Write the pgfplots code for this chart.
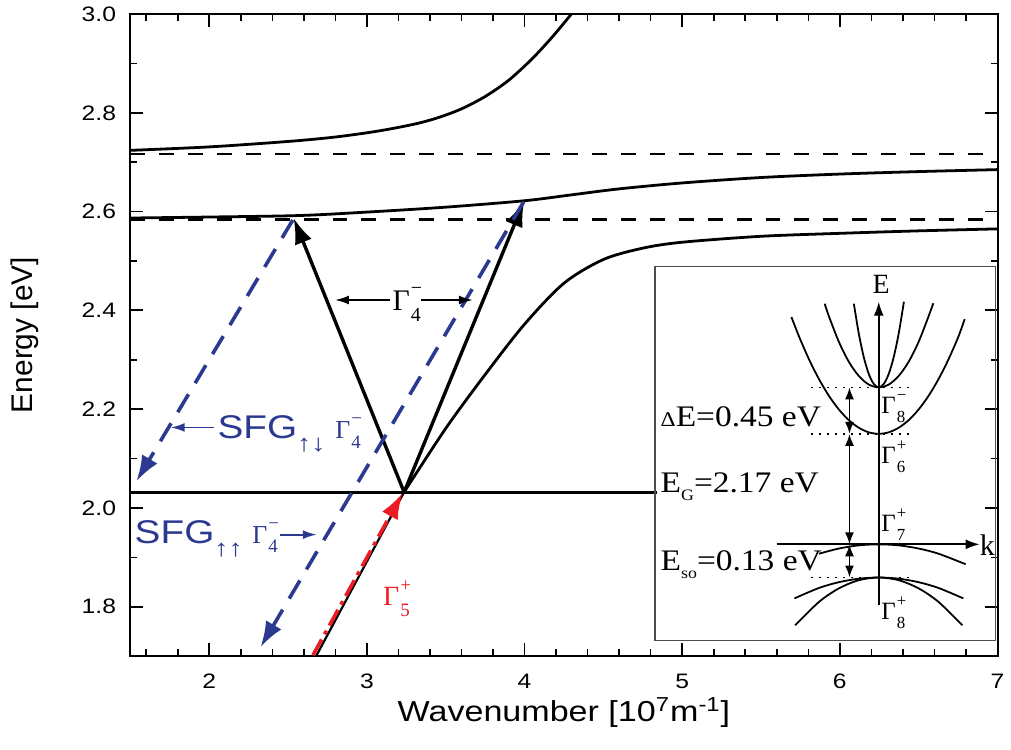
\documentclass[border=0pt]{standalone}
\usepackage{fontspec}
\setmainfont{Liberation Sans}
\newfontfamily\sansw{Liberation Sans}[FakeStretch=1.18]
\newfontfamily\serifw{Liberation Serif}[FakeStretch=1.12]
\newfontfamily\serif{Liberation Serif}
\usepackage{pgfplots}
\pgfplotsset{compat=1.18}
\usetikzlibrary{arrows.meta}
\definecolor{sfgblue}{RGB}{43,57,144}
\definecolor{gred}{RGB}{237,28,36}
\newcommand\Gam[4]{{\serif\fontsize{#1}{#1}\selectfont Γ\kern0.04em\rlap{\raisebox{0.52em}{\fontsize{#2}{#2}\selectfont #4}}\raisebox{-0.38em}{\fontsize{#2}{#2}\selectfont #3}}}
\begin{document}
\begin{tikzpicture}
\begin{axis}[
  at={(0pt,0pt)}, anchor=south west,
  scale only axis, width=435.5pt, height=322.5pt,
  xmin=1.5, xmax=7, ymin=1.7, ymax=3.0,
  clip=false,
  xtick={2,3,4,5,6,7}, ytick={1.8,2.0,2.2,2.4,2.6,2.8,3.0},
  minor x tick num=4, minor y tick num=1,
  tick align=inside,
  major tick length=6.5pt, minor tick length=3.5pt,
  xtick pos=both, ytick pos=both,
  every outer x axis line/.append style={line width=1pt},
  every outer y axis line/.append style={line width=1pt},
  major tick style={draw=black, line width=0.9pt},
  minor tick style={draw=black, line width=0.8pt},
  xticklabel={\pgfmathprintnumber[assume math mode=true]{\tick}},
  yticklabel={\pgfmathprintnumber[assume math mode=true, fixed, fixed zerofill, precision=1]{\tick}},
  tick label style={font=\sansw\fontsize{10.5}{12}\selectfont},
  y tick label style={xshift=-3.7pt},
  x tick label style={yshift=-5.5pt},
  xlabel={Wavenumber [10\textsuperscript{7}m\textsuperscript{-1}]},
  ylabel={Energy [eV]},
  every axis x label/.style={at={(axis description cs:0.5,-0.1023)}, anchor=base, font=\sansw\fontsize{14.5}{16}\selectfont},
  every axis y label/.style={at={(axis description cs:-0.1217,0.5)}, rotate=90, anchor=center, font=\fontsize{15}{16}\selectfont},
]
% tick marks drawn as short segments, one plot each
\pgfplotsinvokeforeach{2,3,4,5,6}{
  \addplot[black, line width=0.9pt] coordinates {(#1,1.7) (#1,1.7262)};
  \addplot[black, line width=0.9pt] coordinates {(#1,3.0) (#1,2.9738)};
}
\pgfplotsinvokeforeach{1.6,1.8,2.2,2.4,2.6,2.8,3.2,3.4,3.6,3.8,4.2,4.4,4.6,4.8,5.2,5.4,5.6,5.8,6.2,6.4,6.6,6.8}{
  \addplot[black, line width=0.8pt] coordinates {(#1,1.7) (#1,1.7141)};
  \addplot[black, line width=0.8pt] coordinates {(#1,3.0) (#1,2.9859)};
}
\pgfplotsinvokeforeach{1.8,2.0,2.2,2.4,2.6,2.8}{
  \addplot[black, line width=0.9pt] coordinates {(1.5,#1) (1.5821,#1)};
  \addplot[black, line width=0.9pt] coordinates {(7,#1) (6.9179,#1)};
}
\pgfplotsinvokeforeach{1.9,2.1,2.3,2.5,2.7,2.9}{
  \addplot[black, line width=0.8pt] coordinates {(1.5,#1) (1.5442,#1)};
  \addplot[black, line width=0.8pt] coordinates {(7,#1) (6.9558,#1)};
}
% dashed exciton levels
\addplot[black, line width=1.3pt, dash pattern=on 7.5pt off 7pt] coordinates {(1.5,2.717) (7,2.717)};
\addplot[black, line width=1.3pt, dash pattern=on 7.5pt off 7pt] coordinates {(1.5,2.584) (7,2.584)};
% horizontal level
\addplot[black, line width=1.4pt] coordinates {(1.5,2.032) (4.84,2.032)};
% upper branch
\addplot[black, line width=1.4pt, smooth] coordinates {
(1.5,2.724) (2.0,2.731) (2.5,2.742) (2.8,2.751) (3.07,2.763) (3.3,2.777) (3.45,2.790) (3.6,2.808) (3.75,2.833) (3.9,2.866) (4.05,2.910) (4.18,2.955) (4.297,3.0)};
% middle branch
\addplot[black, line width=1.4pt, smooth] coordinates {
(1.5,2.587) (2.0,2.589) (2.567,2.592) (3.0,2.599) (3.5,2.609) (4.0,2.622) (4.3,2.634) (4.6,2.646) (5.0,2.658) (5.5,2.669) (6.0,2.676) (6.5,2.681) (7.0,2.685)};
% lower branch
\addplot[black, line width=1.4pt, smooth] coordinates {
(3.236,2.032) (3.5,2.161) (3.75,2.270) (4.0,2.372) (4.25,2.455) (4.5,2.503) (4.75,2.526) (5.0,2.538) (5.5,2.550) (6.0,2.556) (6.5,2.561) (7.0,2.565)};
% photon line
\addplot[black, line width=1.1pt] coordinates {(2.678,1.700) (3.236,2.032)};
% red dash-dot arrow
\addplot[gred, line width=1.8pt, dash pattern=on 9pt off 3pt on 2pt off 3pt, -{Latex[length=13pt,width=9pt]}] coordinates {(2.658,1.702) (3.226,2.030)};
% black transition arrows
\addplot[black, line width=1.7pt, -{Latex[length=13pt,width=9pt]}] coordinates {(3.236,2.032) (2.535,2.587)};
\addplot[black, line width=1.7pt, -{Latex[length=13pt,width=9pt]}] coordinates {(3.236,2.032) (3.998,2.622)};
% blue dashed SFG arrows
\addplot[sfgblue, line width=1.8pt, dash pattern=on 10.5pt off 6.5pt, -{Latex[length=13pt,width=9pt]}] coordinates {(2.53,2.583) (1.538,2.054)};
\addplot[sfgblue, line width=1.8pt, dash pattern=on 10.5pt off 6.5pt, -{Latex[length=13pt,width=9pt]}] coordinates {(3.995,2.620) (2.325,1.718)};
% label arrows
\addplot[black, line width=0.9pt, -{Latex[length=7pt,width=4.5pt]}] coordinates {(3.146,2.421) (2.798,2.421)};
\addplot[black, line width=0.9pt, -{Latex[length=7pt,width=4.5pt]}] coordinates {(3.345,2.421) (3.672,2.421)};
\addplot[sfgblue, line width=0.9pt, -{Latex[length=7pt,width=4.5pt]}] coordinates {(2.03,2.163) (1.756,2.163)};
\addplot[sfgblue, line width=0.9pt, -{Latex[length=7pt,width=4.5pt]}] coordinates {(2.451,1.946) (2.682,1.946)};
% labels
\node[anchor=base west, inner sep=0] at (axis cs:3.16,2.400) {\Gam{15}{10}{4}{−}};
\node[anchor=base west, inner sep=0, text=sfgblue] at (axis cs:2.05,2.141) {\sansw\fontsize{16.5}{16}\selectfont SFG\raisebox{-0.4em}{\fontsize{12}{12}\selectfont ↑↓}\hspace{0.3em}\Gam{13}{9.5}{4}{−}};
\node[anchor=base west, inner sep=0, text=sfgblue] at (axis cs:1.525,1.929) {\sansw\fontsize{16.5}{16}\selectfont SFG\raisebox{-0.4em}{\fontsize{12}{12}\selectfont ↑↑}\hspace{0.3em}\Gam{13}{9.5}{4}{−}};
\node[anchor=base west, inner sep=0, text=gred] at (axis cs:3.10,1.802) {\Gam{14}{9.5}{5}{+}};
\end{axis}
% inset
\begin{axis}[
  at={(263.5pt,8pt)}, anchor=south west,
  scale only axis, width=171pt, height=187.5pt,
  xmin=0, xmax=342, ymin=0, ymax=375,
  xtick=\empty, ytick=\empty,
  axis line style={line width=0.6pt, black!70},
  clip=false,
]
\addplot[black, line width=0.9pt, -{Latex[length=7pt,width=5pt]}] coordinates {(224.7,35) (224.7,340)};
\addplot[black, line width=0.9pt, -{Latex[length=7pt,width=5pt]}] coordinates {(122,96.3) (326,96.3)};
\addplot[black, line width=0.9pt, smooth] coordinates {
(137.0,324.6) (144.7,304.9) (154.7,282.0) (164.7,262.2) (174.7,245.4) (184.7,231.7) (194.7,221.0) (204.7,213.4) (214.7,208.8) (224.7,207.3) (234.7,208.8) (244.7,213.4) (254.7,221.0) (264.7,231.7) (274.7,245.4) (284.7,262.2) (294.7,282.0) (304.7,304.9) (311.0,322.5)};
\addplot[black, line width=0.9pt, smooth] coordinates {
(170.4,338.0) (174.7,325.2) (184.7,299.6) (194.7,279.6) (204.7,265.4) (214.7,256.8) (224.7,254.0) (234.7,256.8) (244.7,265.4) (254.7,279.6) (264.7,299.6) (274.7,325.2) (279.5,338.5)};
\addplot[black, line width=0.9pt, smooth] coordinates {
(199.7,338.0) (204.7,307.8) (209.7,284.2) (214.7,267.4) (219.7,257.4) (224.7,254.0) (229.7,257.4) (234.7,267.4) (239.7,284.2) (244.7,307.8) (250.0,340.0)};
\addplot[black, line width=0.9pt, smooth] coordinates {
(164.7,86.9) (184.7,92.1) (204.7,95.3) (224.7,96.3) (244.7,95.3) (264.7,92.1) (284.7,86.9) (312.0,76.3)};
\addplot[black, line width=0.9pt, smooth] coordinates {
(140.0,42.0) (164.7,52.5) (184.7,58.3) (204.7,61.8) (224.7,63.0) (244.7,61.8) (264.7,58.3) (284.7,52.5) (309.7,42.0)};
\addplot[black, line width=0.9pt, smooth] coordinates {
(140.7,15.0) (164.7,38.5) (184.7,52.1) (204.7,60.3) (224.7,63.0) (244.7,60.3) (264.7,52.1) (284.7,38.5) (308.7,15.0)};
\addplot[black, line width=0.8pt, dash pattern=on 0.8pt off 3.2pt] coordinates {(157,254) (257,254)};
\addplot[black, line width=0.8pt, dash pattern=on 0.8pt off 3.2pt] coordinates {(157,207.3) (257,207.3)};
\addplot[black, line width=0.8pt, dash pattern=on 0.8pt off 3.2pt] coordinates {(157,63) (257,63)};
\addplot[black, line width=0.9pt, {Latex[length=6pt,width=4.5pt]}-{Latex[length=6pt,width=4.5pt]}] coordinates {(195.3,254) (195.3,207.3)};
\addplot[black, line width=0.9pt, {Latex[length=6pt,width=4.5pt]}-{Latex[length=6pt,width=4.5pt]}] coordinates {(195.3,207.3) (195.3,96.3)};
\addplot[black, line width=0.9pt, {Latex[length=6pt,width=4.5pt]}-{Latex[length=6pt,width=4.5pt]}] coordinates {(195.3,96.3) (195.3,63)};
\node[anchor=center, inner sep=0] at (axis cs:227,357.3) {\serif\fontsize{14}{14}\selectfont E};
\node[anchor=west, inner sep=0] at (axis cs:326,95) {\serif\fontsize{15}{15}\selectfont k};
\node[anchor=base west, inner sep=0] at (axis cs:5.3,214.7) {\serifw\fontsize{15}{15}\selectfont{\fontsize{10.5}{10.5}\selectfont Δ}E=0.45 eV};
\node[anchor=base west, inner sep=0] at (axis cs:5.3,148) {\serifw\fontsize{15}{15}\selectfont E\raisebox{-0.25em}{\fontsize{8}{8}\selectfont G}=2.17 eV};
\node[anchor=base west, inner sep=0] at (axis cs:5.3,69.7) {\serifw\fontsize{15}{15}\selectfont E\raisebox{-0.25em}{\fontsize{8}{8}\selectfont so}=0.13 eV};
\node[anchor=base west, inner sep=0] at (axis cs:227,228) {\Gam{12.5}{8.5}{8}{−}};
\node[anchor=base west, inner sep=0] at (axis cs:227,178) {\Gam{12.5}{8.5}{6}{+}};
\node[anchor=base west, inner sep=0] at (axis cs:227,109.7) {\Gam{12.5}{8.5}{7}{+}};
\node[anchor=base west, inner sep=0] at (axis cs:227,21.3) {\Gam{12.5}{8.5}{8}{+}};
\end{axis}
\path (-65.5pt,-47pt) rectangle (440pt,329.5pt);
\end{tikzpicture}
\end{document}
